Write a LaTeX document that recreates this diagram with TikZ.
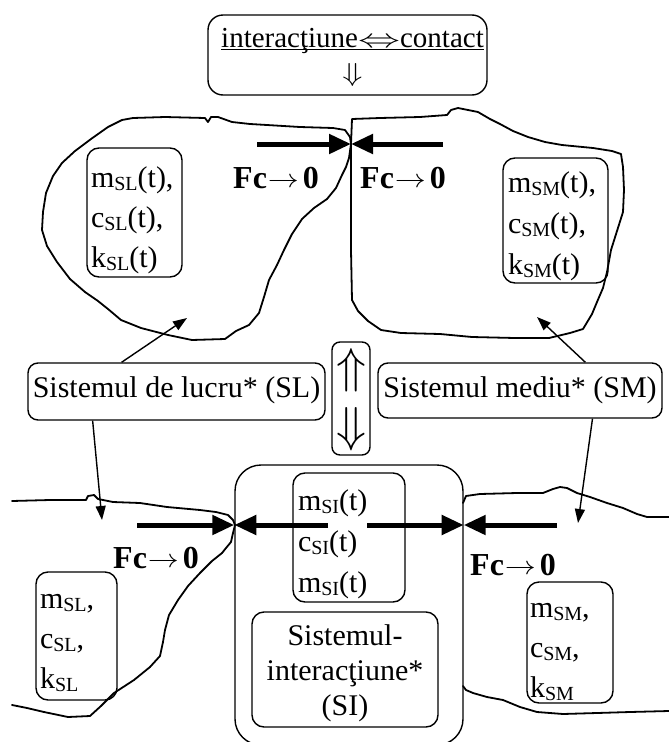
\documentclass[tikz,border=0pt]{standalone}
\usepackage{fontspec}
\setmainfont{Liberation Serif}
\usepackage{graphicx}
\usetikzlibrary{arrows.meta,calc}

% Computer Modern symbol scaled from a fixed 10pt base
\newcommand{\symsc}[3]{\scalebox{#1}[#2]{\fontsize{10}{12}\selectfont$#3$}}
% lowered, smaller subscript letters
\newcommand{\subl}[1]{\raisebox{-3.5pt}{\fontsize{20}{20}\selectfont #1}}
% underline set close to the baseline
\newsavebox{\ulinebox}
\newcommand{\ulbar}[1]{\sbox{\ulinebox}{#1}\rlap{\rule[-3pt]{\wd\ulinebox}{1.2pt}}\usebox{\ulinebox}}
% contact force label
\newcommand{\fczero}{{\bfseries Fc}\hspace{1pt}\raisebox{1pt}{\symsc{3.1}{2.6}{\rightarrow}}\hspace{4pt}{\bfseries 0}}

\tikzset{
  txt/.style={font=\fontsize{30}{40}\selectfont},
  panel/.style={draw, line width=1.4pt, rounded corners=12pt, txt, inner ysep=0pt},
  outline/.style={line width=1.8pt, line join=round, line cap=round},
  force/.style={line width=5pt, -{Triangle[length=22pt,width=19pt]}},
  pointer/.style={line width=1.4pt, -{Triangle[length=14pt,width=10pt]}},
  fclabel/.style={anchor=base west, inner sep=0pt, font=\fontsize{32}{32}\selectfont},
}

\begin{document}
\begin{tikzpicture}[x=1pt,y=-1pt]
\useasboundingbox (0,0) rectangle (669,742);
\clip (0,0) rectangle (669,742);

% ---------- upper pair of bodies ----------
% working system (SL), before contact
\draw[outline] (133,118) -- (165,117) -- (205,118) -- (208,122) -- (211,117) -- (218,117)
  -- (232,122) -- (250,124) -- (267,125) -- (300,127) -- (333,128) -- (345,130) -- (350,137)
  -- (351,144) -- (349,158) -- (346,167) -- (342,175) -- (336,188) -- (327,199) -- (314,208)
  -- (302,219) -- (292,234) -- (284,250) -- (277,265) -- (269,280) -- (264,297) -- (259,313)
  -- (249,325) -- (236,331) -- (225,339) -- (192,340) -- (168,335) -- (141,328) -- (121,320)
  -- (108,309) -- (98,301) -- (85,292) -- (70,279) -- (57,262) -- (47,246) -- (42,230)
  -- (43,212) -- (46,193) -- (53,176) -- (62,163) -- (75,151) -- (91,139) -- (108,127)
  -- (122,120) -- cycle;
% environment system (SM), before contact
\draw[outline] (352,119) -- (380,118) -- (420,117) -- (447,115) -- (451,110) -- (458,108)
  -- (468,110) -- (478,112) -- (490,119) -- (500,124) -- (513,131) -- (528,137) -- (545,142)
  -- (562,145) -- (593,148) -- (612,151) -- (621,154) -- (623,167) -- (624,190) -- (623,212)
  -- (617,231) -- (611,250) -- (607,272) -- (603,288) -- (597,302) -- (592,314) -- (583,329)
  -- (570,333) -- (549,338) -- (515,338) -- (472,337) -- (440,334) -- (401,333) -- (381,330)
  -- (368,321) -- (358,311) -- (352,300) -- (351,250) -- (351,200) -- (351,144) -- cycle;

% ---------- lower bodies in contact ----------
\draw[outline] (12,501) -- (50,500) -- (86,500) -- (88,496) -- (94,495) -- (98,499)
  -- (113,502) -- (140,503) -- (167,507) -- (200,510) -- (216,512) -- (228,515) -- (233,520)
  -- (235,525) -- (233,533) -- (231,542) -- (226,548) -- (222,553) -- (212,561) -- (200,573)
  -- (188,586) -- (178,600) -- (169,615) -- (165,630) -- (163,642) -- (160,656) -- (150,667)
  -- (134,680) -- (114,693) -- (101,706) -- (90,716) -- (68,717) -- (44,712) -- (27,708)
  -- (12,705);
\draw[outline] (463,503) -- (466,496) -- (480,494) -- (517,493) -- (543,493) -- (553,489)
  -- (560,487) -- (567,488) -- (577,493) -- (590,497) -- (607,503) -- (623,508) -- (637,514)
  -- (647,517) -- (669,517);
\draw[outline] (463,686) -- (466,690) -- (473,693) -- (487,697) -- (503,700) -- (520,707)
  -- (537,712) -- (563,714) -- (597,713) -- (630,712) -- (669,711);

% ---------- boxes ----------
\node[panel, rounded corners=15pt, font=\fontsize{29}{40}\selectfont, text width=279pt,
      inner xsep=0pt, align=center, text height=32pt, text depth=48pt] (topbox) at (347.5,55)
  {\hspace*{10pt}\ulbar{interacţiune\symsc{4.2}{2.6}{\Leftrightarrow}contact}\\[-6pt]%
   \hspace*{10pt}\symsc{3.3}{2.6}{\Downarrow}};

\node[panel, text width=87pt, inner xsep=4pt, text height=39pt, text depth=90pt,
      align=left] (sl1) at (134.5,212.5)
  {m\subl{SL}(t),\\c\subl{SL}(t),\\k\subl{SL}(t)};
\node[panel, font=\fontsize{30}{41}\selectfont, text width=95pt, inner xsep=5pt,
      text height=34pt, text depth=91pt, align=left] (sm1) at (555.5,220.5)
  {m\subl{SM}(t),\\c\subl{SM}(t),\\k\subl{SM}(t)};

\node[panel, rounded corners=10pt, minimum width=297pt, inner xsep=3pt,
      text height=34pt, text depth=23pt] (sllabel) at (176.5,391.5)
  {Sistemul de lucru* (SL)};
\node[panel, rounded corners=10pt, minimum width=284pt, inner xsep=3pt,
      text height=34pt, text depth=21pt] (smlabel) at (520,390.5)
  {Sistemul mediu* (SM)};
\node[panel, rounded corners=8pt, text width=38pt, inner xsep=0pt, align=center,
      text height=40pt, text depth=73pt] (swap) at (351,398.5)
  {\symsc{4.9}{4.9}{\Uparrow}\\[15pt]\symsc{4.9}{4.9}{\Downarrow}};

\node[panel, text width=73pt, inner xsep=4pt, text height=36pt, text depth=92pt,
      align=left] (sl2) at (76.5,636)
  {m\subl{SL},\\c\subl{SL},\\k\subl{SL}};
\node[panel, text width=80pt, inner xsep=3pt, text height=35pt, text depth=86pt,
      align=left] (sm2) at (570,642.5)
  {m\subl{SM},\\c\subl{SM},\\k\subl{SM}};

% interaction system
\node[draw, line width=1.4pt, rounded corners=26pt, minimum width=228pt,
      minimum height=280pt, inner sep=0pt] (si) at (349,605) {};
\node[panel, font=\fontsize{30}{41}\selectfont, text width=102pt, inner xsep=5pt,
      text height=37pt, text depth=92pt, align=left] (sit) at (349,537.5)
  {m\subl{SI}(t)\\c\subl{SI}(t)\\m\subl{SI}(t)};
\node[panel, font=\fontsize{30}{35}\selectfont, text width=178pt, inner xsep=4pt,
      text height=33pt, text depth=82pt, align=center] (siname) at (345,669.5)
  {Sistemul-\\interacţiune*\\(SI)};

% ---------- force labels ----------
\node[fclabel] (fc1) at (233,188) {\fczero};
\node[fclabel] (fc2) at (360,188) {\fczero};
\node[fclabel] (fc3) at (113,568) {\fczero};
\node[fclabel] (fc4) at (470,575) {\fczero};

% ---------- contact forces ----------
\coordinate (jtop) at (351,144);
\coordinate (fa1) at (257,144);
\coordinate (fa2) at (443,144);
\draw[force] (fa1) -- (jtop);
\draw[force] (fa2) -- (jtop);

\coordinate (fb1) at (137,525);
\coordinate (fb2) at (328,525);
\coordinate (fb3) at (367,525);
\coordinate (fb4) at (557,525);
\coordinate (jl) at (si.west |- fb1);
\coordinate (jr) at (si.east |- fb1);
\draw[force] (fb1) -- (jl);
\draw[force] (fb2) -- (jl);
\draw[force] (fb3) -- (jr);
\draw[force] (fb4) -- (jr);

% ---------- pointers from the labels ----------
\coordinate (p1) at (187,318);
\coordinate (p2) at (537,317);
\coordinate (p3) at (102,520);
\coordinate (p4) at (578,523);
\draw[pointer] ($(sllabel.north west)!0.316!(sllabel.north east)$) -- (p1);
\draw[pointer] ($(smlabel.north west)!0.729!(smlabel.north east)$) -- (p2);
\draw[pointer] ($(sllabel.south west)!0.219!(sllabel.south east)$) -- (p3);
\draw[pointer] ($(smlabel.south west)!0.754!(smlabel.south east)$) -- (p4);
\end{tikzpicture}
\end{document}
